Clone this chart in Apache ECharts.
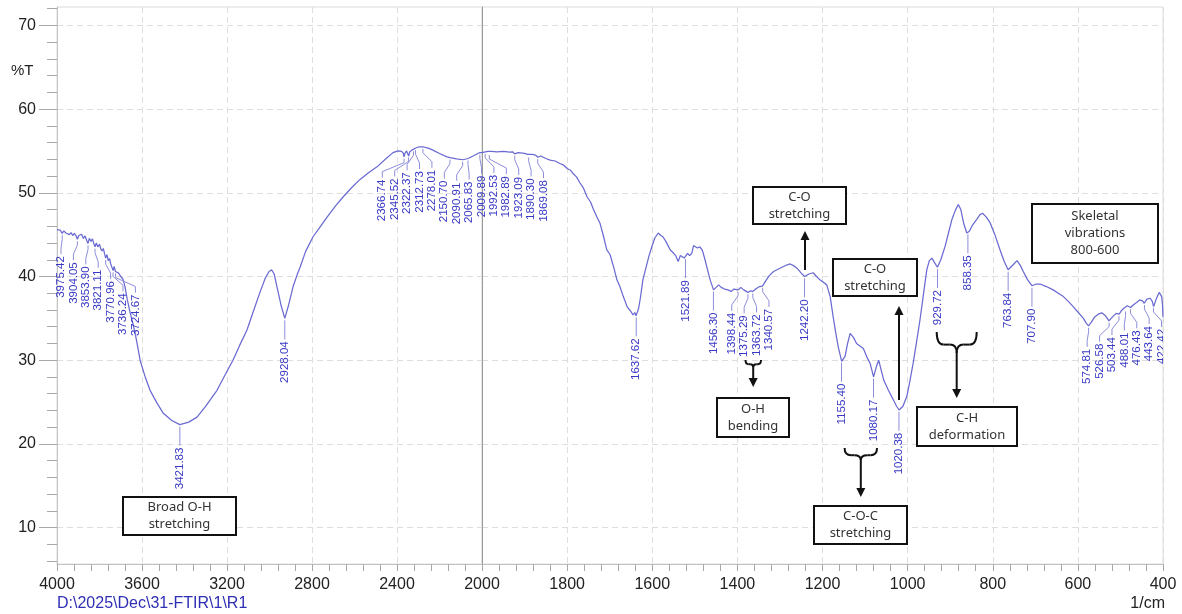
<!DOCTYPE html>
<html><head><meta charset="utf-8">
<script src="https://cdn.jsdelivr.net/npm/echarts@6/dist/echarts.min.js"></script>
<style>html,body{margin:0;padding:0;background:#fff}#c{width:1182px;height:614px}</style>
</head><body><div id="c"></div>
<script>
// ---- data ----
const wavenumber = [
4000,3992,3985,3976,3968,3958,3950,3942,3934,3926,3918,3910,3904,3898,3890,3884,3876,3868,3860,3854,
3848,3840,3833,3827,3821,3815,3808,3800,3794,3788,3782,3776,3771,3765,3759,3753,3747,3741,3736,3731,
3725,3718,3710,3700,3690,3680,3669,3656,3645,3633,3620,3609,3585,3562,3530,3501,3460,3422,3380,3341,
3300,3247,3210,3172,3140,3106,3075,3045,3020,3002,2990,2978,2965,2945,2928,2910,2889,2870,2856,2830,
2795,2760,2729,2690,2654,2614,2574,2534,2494,2455,2419,2395,2378,2370,2367,2362,2355,2349,2345,2340,
2330,2322,2312,2295,2278,2250,2231,2200,2165,2150,2120,2090,2065,2042,2020,2010,2000,
1992,1986,1983,1978,1965,1950,1935,1928,1923,1915,1900,1893,1890,1882,1874,1869,1862,1850,1840,1828,
1817,1808,1800,1792,1786,1778,1770,1762,1753,1745,1738,1730,1723,1715,1707,1699,1690,1683,1676,1668,
1659,1650,1645,1641,1638,1632,1628,1622,1615,1608,1601,1594,1586,1580,1575,1568,1562,1558,1552,1545,
1539,1534,1530,1525,1522,1517,1512,1507,1503,1500,1494,1488,1482,1476,1470,1464,1456,1450,1444,1438,
1430,1422,1415,1408,1398,1392,1385,1375,1369,1364,1357,1348,1341,1333,1325,1315,1307,1295,1283,1276,
1268,1260,1250,1242,1232,1222,1214,1206,1198,1190,1182,1175,1168,1163,1155,1147,1141,1135,1127,1120,
1112,1104,1096,1088,1080,1073,1068,1063,1056,1046,1034,1026,1020,1011,1002,995,987,979,971,963,
955,949,943,936,930,922,912,904,896,888,881,875,868,861,855,848,838,830,824,815,
806,795,783,773,764,752,743,735,728,718,708,698,689,674,658,646,634,622,611,599,
587,580,575,569,560,552,544,535,527,518,510,503,498,492,488,484,480,476,470,462,
455,448,444,438,430,425,422,416,409,405,403,401,400];
const transmittance = [
45.6,45.5,45.55,45.15,45.45,45.2,45.35,45.0,45.25,44.9,45.15,44.85,44.45,44.9,44.7,45.05,44.55,44.85,44.3,43.95,
44.55,44.2,44.5,43.95,43.55,44.0,43.55,43.85,43.3,43.05,43.35,42.7,42.2,42.6,41.9,42.15,41.5,41.4,40.7,41.2,
40.6,40.5,40.4,40.0,39.7,38.8,37.2,35.7,34.6,33.3,31.6,30.0,28.0,26.4,24.9,23.7,22.8,22.3,22.6,23.2,
24.5,26.4,28.2,30.0,31.8,33.6,35.9,38.1,39.8,40.6,40.8,40.3,38.8,36.5,35.0,36.6,38.8,40.2,41.1,43.0,
44.75,46.0,47.1,48.4,49.5,50.6,51.6,52.4,53.1,54.0,54.8,55.0,54.95,54.7,54.3,54.75,55.0,54.85,54.4,54.9,
55.1,55.2,55.35,55.5,55.5,55.3,55.1,54.7,54.3,54.2,54.05,53.95,54.1,54.4,54.7,54.8,54.8,
54.9,54.95,54.75,54.95,54.9,54.95,54.85,54.9,54.65,54.8,54.7,54.6,54.45,54.6,54.5,54.25,54.4,54.1,53.9,53.8,
53.5,53.3,52.9,52.7,52.3,51.9,51.2,50.6,49.5,48.9,48.0,47.1,46.4,44.9,43.2,42.6,41.0,39.6,38.8,37.6,
36.4,35.8,35.4,35.7,35.3,36.2,37.4,39.6,41.0,42.4,43.55,44.6,45.2,44.9,44.75,44.2,43.6,43.2,42.9,42.5,
41.8,42.5,42.6,42.2,42.3,42.75,42.5,42.8,43.7,43.9,43.4,43.55,43.1,42.0,40.8,39.6,38.4,38.7,39.0,38.7,
38.5,38.4,38.2,38.5,38.4,38.7,38.4,38.1,38.3,38.2,38.5,38.8,38.85,39.5,40.1,40.6,40.8,41.1,41.4,41.5,
41.3,41.0,40.4,40.0,40.3,40.45,40.0,39.6,39.3,39.0,37.6,35.2,33.0,31.6,29.85,30.45,32.0,33.2,32.7,32.0,
31.7,31.4,30.4,29.6,28.0,29.3,30.0,29.0,27.6,26.5,25.3,24.5,24.05,24.5,25.66,27.4,29.65,32.2,34.8,37.8,
40.8,41.9,42.2,41.6,41.1,42.0,43.6,45.2,46.8,47.9,48.6,48.0,46.3,45.2,45.4,46.1,46.8,47.4,47.55,47.1,
46.4,45.0,43.2,41.8,40.8,41.4,41.9,41.3,40.56,39.6,38.9,39.1,39.1,38.8,38.4,38.0,37.6,37.0,36.4,35.7,
35.0,34.4,34.1,34.5,35.2,35.5,35.66,35.3,34.7,35.2,35.6,35.5,35.9,36.2,36.05,36.5,36.5,36.3,36.6,36.9,
37.2,37.1,36.8,37.3,37.4,37.0,36.4,37.3,38.1,37.9,37.6,36.5,35.2];
const peakWavenumbers = [3975.42,3904.05,3853.90,3821.11,3770.96,3736.24,3724.67,3421.83,2928.04,
2366.74,2345.52,2322.37,2312.73,2278.01,2150.70,2090.91,2065.83,2009.89,1992.53,1982.89,1923.09,1890.30,1869.08,
1637.62,1521.89,1456.30,1398.44,1375.29,1363.72,1340.57,1242.20,1155.40,1080.17,1020.38,929.72,858.35,763.84,707.90,
574.81,526.58,503.44,488.01,476.43,443.64,422.42];
const yTickLabels = [10,20,30,40,50,60,70];
const yMinorTicks = [6,8,12,14,16,18,22,24,26,28,32,34,36,38,42,44,46,48,52,54,56,58,62,64,66,68,72];
const annotationTexts = ['Broad O-H\nstretching','O-H\nbending','C-O\nstretching','C-O\nstretching','C-O-C\nstretching','C-H\ndeformation','Skeletal\nvibrations\n800-600'];

// ---- build ----
const Y_MIN = 5.65, Y_MAX = 72.2;
const highData = [], lowData = [];
wavenumber.forEach((w, i) => {
  if (w >= 2000) highData.push([w, transmittance[i]]);
  if (w <= 2000) lowData.push([w, transmittance[i]]);
});
function tAt(w) {
  for (let i = 0; i < wavenumber.length - 1; i++) {
    const a = wavenumber[i], b = wavenumber[i + 1];
    if (w <= a && w >= b) { const f = (a - w) / (a - b); return transmittance[i] + f * (transmittance[i + 1] - transmittance[i]); }
  }
  return transmittance[transmittance.length - 1];
}

const FONT = '"Liberation Sans", Arial, sans-serif';
const BOXFONT = '"Noto Sans", "Open Sans", sans-serif';
const grids = [
  {left: 57, top: 7, width: 425, height: 557, show: true, borderColor: '#dcdcdc', borderWidth: 1},
  {left: 482, top: 7, width: 681, height: 557, show: true, borderColor: '#dcdcdc', borderWidth: 1}
];
function xAxisCfg(g, min, max, interval, hide2000) {
  return {
    type: 'value', gridIndex: g, min, max, interval, inverse: true,
    axisLine: {show: true, lineStyle: {color: '#c4c4c4'}},
    axisTick: {show: true, length: 7, lineStyle: {color: '#a8a8a8'}},
    minorTick: {show: true, splitNumber: 5, length: 7, lineStyle: {color: '#a8a8a8'}},
    axisLabel: {fontSize: 16, color: '#222', fontFamily: FONT, margin: 13,
      formatter: v => (hide2000 && v === 2000) ? '' : String(v)},
    splitLine: {show: true, lineStyle: {color: '#dedede', type: [6, 4]}},
    minorSplitLine: {show: false}
  };
}
const yMain0 = {
  type: 'value', gridIndex: 0, min: Y_MIN, max: Y_MAX, position: 'left',
  axisLine: {show: true, lineStyle: {color: '#c4c4c4'}},
  axisTick: {show: true, length: 18, customValues: yTickLabels, lineStyle: {color: '#a8a8a8'}},
  axisLabel: {show: true, customValues: yTickLabels, fontSize: 16, color: '#222', fontFamily: FONT, margin: 21},
  splitLine: {show: true, lineStyle: {color: '#dedede', type: [6, 4]}}
};
const yMinor0 = {
  type: 'value', gridIndex: 0, min: Y_MIN, max: Y_MAX, position: 'left', offset: 0,
  axisLine: {show: false},
  axisTick: {show: true, length: 10, customValues: yMinorTicks, lineStyle: {color: '#a8a8a8'}},
  axisLabel: {show: false}, splitLine: {show: false}
};
const yMain1 = {
  type: 'value', gridIndex: 1, min: Y_MIN, max: Y_MAX, position: 'left',
  axisLine: {show: true, lineStyle: {color: '#9a9a9a'}},
  axisTick: {show: false, customValues: yTickLabels},
  axisLabel: {show: false, customValues: yTickLabels},
  splitLine: {show: true, lineStyle: {color: '#dedede', type: [6, 4]}}
};
const lineStyle = {color: '#6a6ad2', width: 1.25};
const lineSeries = [
  {type: 'line', xAxisIndex: 0, yAxisIndex: 0, data: highData, showSymbol: false, symbol: 'none', lineStyle, z: 3},
  {type: 'line', xAxisIndex: 1, yAxisIndex: 2, data: lowData, showSymbol: false, symbol: 'none', lineStyle, z: 3}
];

// annotations (pixel layout)
const INK = '#111';
function box(x, y, w, h, text) {
  return [
    {type: 'rect', shape: {x, y, width: w, height: h}, style: {fill: '#fff', stroke: INK, lineWidth: 2}, z: 10},
    {type: 'text', x: x + w / 2, y: y + h / 2, z: 11,
      style: {text, align: 'center', verticalAlign: 'middle', fill: '#333', fontSize: 13, fontFamily: BOXFONT, lineHeight: 17}}
  ];
}
function vArrow(x, y0, y1) {
  const dir = y1 > y0 ? 1 : -1, hl = 9, hw = 4.5;
  return [
    {type: 'line', shape: {x1: x, y1: y0, x2: x, y2: y1 - dir * hl}, style: {stroke: INK, lineWidth: 2}, z: 10},
    {type: 'polygon', shape: {points: [[x, y1], [x - hw, y1 - dir * hl], [x + hw, y1 - dir * hl]]}, style: {fill: INK}, z: 10}
  ];
}
function brace(xL, xR, yT, yB) {
  const xc = (xL + xR) / 2, yM = yT + (yB - yT) * 0.6, q = Math.min(7, (xR - xL) / 5);
  const st = {stroke: INK, lineWidth: 2, fill: null};
  return [
    {type: 'bezierCurve', shape: {x1: xL, y1: yT, x2: xL + q, y2: yM, cpx1: xL, cpy1: yM}, style: st, z: 10},
    {type: 'line', shape: {x1: xL + q, y1: yM, x2: xc - q, y2: yM}, style: st, z: 10},
    {type: 'bezierCurve', shape: {x1: xc - q, y1: yM, x2: xc, y2: yB, cpx1: xc, cpy1: yM}, style: st, z: 10},
    {type: 'bezierCurve', shape: {x1: xc + q, y1: yM, x2: xc, y2: yB, cpx1: xc, cpy1: yM}, style: st, z: 10},
    {type: 'line', shape: {x1: xc + q, y1: yM, x2: xR - q, y2: yM}, style: st, z: 10},
    {type: 'bezierCurve', shape: {x1: xR, y1: yT, x2: xR - q, y2: yM, cpx1: xR, cpy1: yM}, style: st, z: 10}
  ];
}
const graphics = [].concat(
  box(123, 497, 113, 38, annotationTexts[0]),
  box(717, 398, 72, 39, annotationTexts[1]),
  box(753, 187, 93, 37, annotationTexts[2]),
  box(833, 259, 84, 37, annotationTexts[3]),
  box(814, 506, 93, 38, annotationTexts[4]),
  box(917, 407, 100, 39, annotationTexts[5]),
  box(1032, 204, 126, 59, annotationTexts[6]),
  vArrow(805, 270, 231),
  vArrow(899, 400, 306),
  brace(745.5, 761, 360, 367), vArrow(753.2, 367, 387),
  brace(844.6, 877, 448, 460), vArrow(860.8, 460, 497),
  brace(936.7, 976.7, 332, 353), vArrow(956.7, 353, 398),
  [
    {type: 'text', x: 11, y: 71, style: {text: '%T', fill: '#222', fontSize: 15, fontFamily: FONT, verticalAlign: 'middle'}},
    {type: 'text', x: 57, y: 604, style: {text: 'D:\\2025\\Dec\\31-FTIR\\1\\R1', fill: '#2f2fb4', fontSize: 16, fontFamily: FONT, verticalAlign: 'middle'}},
    {type: 'text', x: 1165, y: 604, style: {text: '1/cm', fill: '#222', fontSize: 16, fontFamily: FONT, align: 'right', verticalAlign: 'middle'}}
  ]
);

const chart = echarts.init(document.getElementById('c'), null, {renderer: 'canvas'});
chart.setOption({
  animation: false,
  backgroundColor: '#fff',
  grid: grids,
  xAxis: [xAxisCfg(0, 2000, 4000, 400, true), xAxisCfg(1, 400, 2000, 200, false)],
  yAxis: [yMain0, yMinor0, yMain1],
  series: lineSeries,
  graphic: graphics
});

// ---- peak label layout (pixel positions from the library's scales) ----
const peaks = peakWavenumbers.map(w => {
  const t = tAt(w), g = w >= 2000 ? 0 : 1;
  const p = chart.convertToPixel({xAxisIndex: g, yAxisIndex: g === 0 ? 0 : 2}, [w, t]);
  return {w, t, g, px: p[0], py: p[1], label: w.toFixed(2)};
}).sort((a, b) => a.px - b.px);
(function spread(items, gap, leftLimit) {
  let blocks = items.map(it => ({items: [it], sum: it.px}));
  const start = b => b.sum / b.items.length - (b.items.length - 1) / 2 * gap;
  const end = b => b.sum / b.items.length + (b.items.length - 1) / 2 * gap;
  let changed = true;
  while (changed) {
    changed = false;
    for (let i = 0; i < blocks.length - 1; i++) {
      if (start(blocks[i + 1]) - end(blocks[i]) < gap) {
        blocks.splice(i, 2, {items: blocks[i].items.concat(blocks[i + 1].items), sum: blocks[i].sum + blocks[i + 1].sum});
        changed = true; break;
      }
    }
  }
  blocks.forEach(bl => {
    const n = bl.items.length;
    let s = start(bl);
    if (s < leftLimit) s = leftLimit;
    bl.items.forEach((it, k) => { it.lx = n === 1 ? it.px : s + k * gap; });
  });
})(peaks, 12.4, 61);

function labelSeries(g) {
  const list = peaks.filter(p => p.g === g);
  return {
    type: 'custom', xAxisIndex: g, yAxisIndex: g === 0 ? 0 : 2, clip: g === 1, z: 4,
    encode: {x: 0, y: 1},
    data: list.map(p => [p.w, p.t, p.lx - p.px]),
    renderItem: function (params, api) {
      const it = list[params.dataIndex];
      const pt = api.coord([api.value(0), api.value(1)]);
      const x0 = pt[0], y0 = pt[1], lx = x0 + api.value(2);
      const pts = Math.abs(lx - x0) < 0.5
        ? [[x0, y0 + 2], [x0, y0 + 21]]
        : [[x0, y0 + 2], [x0, y0 + 6], [lx, y0 + 15], [lx, y0 + 21]];
      return {type: 'group', children: [
        {type: 'polyline', shape: {points: pts}, style: {stroke: '#8d8dda', lineWidth: 1, fill: null}},
        {type: 'text', x: lx, y: y0 + 23, rotation: Math.PI / 2,
          style: {text: it.label, align: 'right', verticalAlign: 'middle', fill: '#3838c4', fontSize: 11.5, fontFamily: FONT}}
      ]};
    }
  };
}
chart.setOption({series: lineSeries.concat([labelSeries(0), labelSeries(1)])});
</script>
</body></html>
